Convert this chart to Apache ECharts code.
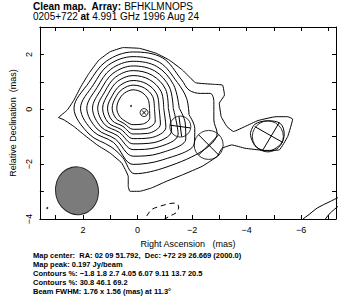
<!DOCTYPE html>
<html>
<head>
<meta charset="utf-8">
<script src="https://cdn.jsdelivr.net/npm/echarts@6/dist/echarts.min.js"></script>
<style>html,body{margin:0;padding:0;background:#fff}#c{width:341px;height:302px}</style>
</head>
<body>
<div id="c"></div>
<script>
// axis ticks (mas)
var xTicks = [3, 2, 1, 0, -1, -2, -3, -4, -5, -6, -7];
var xLabels = [2, 0, -2, -4, -6];
var yTicks = [3, 2, 1, 0, -1, -2, -3, -4];
var yLabels = [2, 0, -2, -4];

// contour lines, [RA, Dec] in mas
var c1 = [[2.90,-0.30],[2.57,-0.02],[2.33,0.34],[2.08,0.82],[1.78,1.31],[1.42,1.79],[1.00,2.10],[0.52,2.25],[-0.08,2.22],[-0.69,2.04],[-1.17,1.79],[-1.65,1.43],[-2.13,0.97],[-2.80,0.91],[-3.12,0.88],[-3.19,0.52],[-3.00,0.22],[-3.07,-0.27],[-3.28,-0.63],[-3.52,-0.81],[-3.94,-0.63],[-4.42,-0.41],[-5.08,-0.27],[-5.51,-0.27],[-5.69,-0.36],[-5.51,-0.99],[-5.20,-1.48],[-4.66,-1.50],[-3.94,-1.42],[-3.46,-1.30],[-3.10,-1.42],[-2.92,-1.72],[-2.37,-2.08],[-1.65,-2.39],[-1.05,-2.63],[-0.51,-2.87],[-0.08,-2.99],[0.28,-2.99],[0.34,-2.81],[0.34,-2.45],[0.58,-1.96],[1.00,-1.60],[1.48,-1.30],[1.96,-0.93],[2.33,-0.63],[2.69,-0.39],[2.90,-0.30]];
var c2 = [[-2.80,0.10],[-2.80,0.28],[-2.67,0.58],[-2.31,0.58],[-1.89,0.70],[-1.62,1.07],[-0.91,1.88],[0.16,2.09],[1.15,1.75],[1.78,0.98],[2.33,0.04],[1.78,-0.90],[0.97,-1.37],[0.55,-1.75],[0.10,-2.35],[-1.08,-2.10],[-2.45,-1.47],[-2.92,-0.87],[-2.80,-0.39],[-2.80,0.10]];
var c3 = [[-1.89,-0.20],[-1.80,0.40],[-1.46,0.98],[-0.81,1.71],[0.16,1.92],[1.07,1.61],[1.62,0.89],[2.09,0.04],[1.62,-0.81],[0.88,-1.21],[0.16,-2.01],[-0.93,-1.84],[-2.08,-1.26],[-2.10,-0.70],[-1.89,-0.20]];
var c4 = [[-1.53,0.04],[-1.32,0.90],[-0.71,1.56],[0.16,1.75],[0.98,1.46],[1.48,0.80],[1.86,0.04],[1.48,-0.72],[0.81,-1.09],[0.16,-1.71],[-0.79,-1.61],[-1.77,-1.08],[-1.75,-0.50],[-1.53,0.04]];
var c5 = [[-1.31,0.04],[-1.17,0.81],[-0.63,1.40],[0.16,1.58],[0.90,1.31],[1.34,0.72],[1.65,0.04],[1.34,-0.64],[0.74,-0.96],[0.16,-1.47],[-0.67,-1.40],[-1.49,-0.91],[-1.31,0.04]];
var c6 = [[-1.13,0.04],[-1.03,0.73],[-0.54,1.24],[0.16,1.41],[0.81,1.17],[1.20,0.64],[1.46,0.04],[1.20,-0.56],[0.67,-0.84],[0.16,-1.26],[-0.57,-1.22],[-1.25,-0.78],[-1.13,0.04]];
var c7 = [[-0.96,0.04],[-0.87,0.64],[-0.44,1.08],[0.16,1.23],[0.73,1.02],[1.07,0.57],[1.28,0.04],[1.07,-0.49],[0.61,-0.73],[0.16,-1.07],[-0.47,-1.04],[-1.04,-0.66],[-0.96,0.04]];
var c8 = [[-0.79,0.04],[-0.71,0.55],[-0.35,0.92],[0.16,1.05],[0.64,0.87],[0.93,0.49],[1.10,0.04],[0.93,-0.41],[0.54,-0.62],[0.16,-0.90],[-0.37,-0.88],[-0.84,-0.54],[-0.79,0.04]];
var c9 = [[-0.62,0.04],[-0.56,0.46],[-0.26,0.77],[0.16,0.88],[0.56,0.73],[0.81,0.42],[0.93,0.04],[0.79,-0.33],[0.49,-0.52],[0.16,-0.73],[-0.28,-0.71],[-0.65,-0.43],[-0.62,0.04]];
var c10 = [[-0.44,0.04],[-0.39,0.36],[-0.17,0.61],[0.16,0.71],[0.48,0.59],[0.68,0.34],[0.76,0.04],[0.66,-0.25],[0.44,-0.44],[0.16,-0.56],[-0.18,-0.54],[-0.45,-0.31],[-0.44,0.04]];
var cKnot = [[-4.14,-0.87],[-4.30,-0.55],[-4.78,-0.42],[-5.24,-0.52],[-5.38,-0.90],[-5.26,-1.26],[-4.78,-1.52],[-4.36,-1.38],[-4.18,-1.08],[-4.14,-0.87]];
var cCorner1 = [[-5.87,-4.27],[-6.05,-4.02],[-6.29,-3.84],[-6.59,-3.60],[-7.07,-3.36],[-7.43,-3.18]];
var cCorner2 = [[-6.75,-4.20],[-6.89,-4.00],[-7.07,-3.78],[-7.43,-3.48]];
var cNeg = [[-0.14,-4.15],[-0.33,-3.90],[-0.51,-3.66],[-0.81,-3.54],[-1.17,-3.44],[-1.41,-3.42],[-1.51,-3.56],[-1.43,-3.76],[-1.17,-3.90],[-0.87,-4.08]];

// model components and their axes
var comps = [[-0.24,-0.12],[-1.57,-0.63],[-2.61,-1.30],[-4.78,-0.99]];
var compAxes = [
  [[-0.16,-0.04],[-0.32,-0.20]], [[-0.32,-0.04],[-0.16,-0.20]],
  [[-1.20,-0.58],[-1.94,-0.68]], [[-1.52,-0.26],[-1.62,-1.00]],
  [[-2.24,-0.93],[-2.98,-1.67]], [[-2.98,-0.93],[-2.24,-1.67]],
  [[-4.30,-0.63],[-5.33,-1.21]], [[-5.20,-0.48],[-4.60,-1.48]]
];
var beam = [[2.22,-2.97]];
var specks = [[0.24,0.12],[3.31,-3.60]];

var infoLines = [
  'Map center:  RA: 02 09 51.792,  Dec: +72 29 26.669 (2000.0)',
  'Map peak: 0.197 Jy/beam',
  'Contours %: \u22121.8 1.8 2.7 4.05 6.07 9.11 13.7 20.5',
  'Contours %: 30.8 46.1 69.2',
  'Beam FWHM: 1.76 x 1.56 (mas) at 11.3\u00b0'
];

var font = 'Liberation Sans, Arial, sans-serif';
var chart = echarts.init(document.getElementById('c'), null, {renderer: 'svg'});

function minus(v) { return String(v).replace('-', '\u2212'); }

function frameAxis(pos, min, max, ticks, labels, extra) {
  var a = {
    type: 'value', position: pos, min: min, max: max,
    axisLine: {show: true, onZero: false, lineStyle: {color: '#000', width: 1}},
    axisTick: {show: true, inside: true, length: 4, customValues: ticks, lineStyle: {color: '#000', width: 1}},
    axisLabel: {show: false},
    splitLine: {show: false}
  };
  if (labels) {
    a.axisLabel = {show: true, customValues: labels, formatter: minus, color: '#000',
      fontSize: 9, fontFamily: font, margin: 6,
      rotate: (pos === 'left') ? 90 : 0};
  }
  return Object.assign(a, extra || {});
}

var series = [];
var contours = [c1, c2, c3, c4, c5, c6, c7, c8, c9, c10, cKnot, cCorner1, cCorner2];
contours.forEach(function (c, i) {
  series.push({type: 'line', data: c, showSymbol: false, symbol: 'none', silent: true,
    smooth: i === 0 ? 0.1 : 0.35, clip: true, lineStyle: {color: '#000', width: 1}});
});
// negative contour, dashed
series.push({type: 'line', data: cNeg, showSymbol: false, symbol: 'none', silent: true, smooth: 0.3,
  clip: true, lineStyle: {color: '#000', width: 1, type: [5, 4]}});
compAxes.forEach(function (seg) {
  series.push({type: 'line', data: seg, showSymbol: false, symbol: 'none', silent: true,
    lineStyle: {color: '#000', width: 1}});
});
series.push({type: 'scatter', data: comps, silent: true,
  symbolSize: function (v, p) { return [8, 21, 29, 31][p.dataIndex]; },
  itemStyle: {color: 'rgba(0,0,0,0)', borderColor: '#000', borderWidth: 1}});
// restoring beam
series.push({type: 'scatter', data: beam, silent: true, symbolSize: [43, 48], symbolRotate: 11,
  itemStyle: {color: '#5a5a5a', borderColor: '#000', borderWidth: 1}});
series.push({type: 'scatter', data: specks, silent: true, symbolSize: 2, itemStyle: {color: '#000'}});

chart.setOption({
  animation: false,
  backgroundColor: '#fff',
  title: {
    left: 33, top: 1, padding: 0,
    text: '{b|Clean map.  Array:} BFHKLMNOPS\n0205+722 {b|at} 4.991 GHz 1996 Aug 24',
    textStyle: {fontSize: 10, fontFamily: font, fontWeight: 'normal', color: '#000', lineHeight: 10,
      rich: {b: {fontSize: 10, fontFamily: font, fontWeight: 'bold', color: '#000', lineHeight: 10}}}
  },
  grid: {left: 35, right: 5, top: 27, bottom: 83},
  xAxis: [
    frameAxis('bottom', -7.28, 3.58, xTicks, xLabels, {inverse: true,
      name: 'Right Ascension   (mas)', nameLocation: 'middle', nameGap: 20,
      nameTextStyle: {fontSize: 9, fontFamily: font, color: '#000'}}),
    frameAxis('top', -7.28, 3.58, xTicks, null, {inverse: true})
  ],
  yAxis: [
    frameAxis('left', -4, 3, yTicks, yLabels, {
      name: 'Relative Declination  (mas)', nameLocation: 'middle', nameGap: 21, nameRotate: 90,
      nameTextStyle: {fontSize: 9, fontFamily: font, color: '#000'}}),
    frameAxis('right', -4, 3, yTicks, null)
  ],
  graphic: [{
    type: 'text', left: 33, top: 250.5,
    style: {text: infoLines.join('\n'), fontSize: 7.5, fontWeight: 'bold', fontFamily: font,
      lineHeight: 9, fill: '#000'}
  }],
  series: series
});
</script>
</body>
</html>
